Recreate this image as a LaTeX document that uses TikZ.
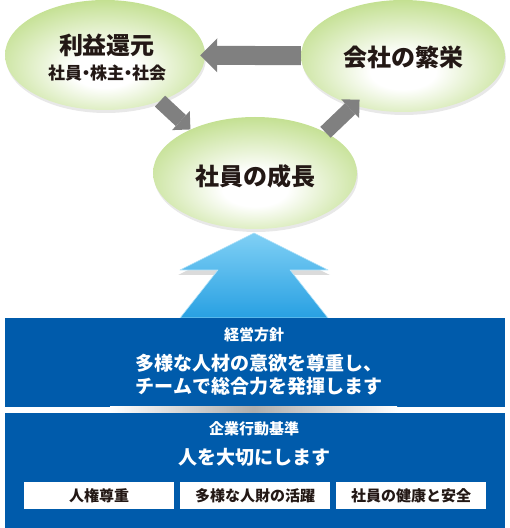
\documentclass[tikz,border=0pt]{standalone}
\usepackage{fontspec}
\setmainfont{Noto Sans CJK JP}
\usetikzlibrary{arrows.meta,shapes.geometric,shadows}
\definecolor{leafgreen}{RGB}{138,194,40}
\colorlet{leaflight}{leafgreen!48!white}
\colorlet{leafmid}{leafgreen!85!white}
\definecolor{corpblue}{RGB}{0,91,171}
\definecolor{skytop}{RGB}{128,208,245}
\definecolor{skybot}{RGB}{40,160,226}
\definecolor{inkdark}{RGB}{35,24,21}
\definecolor{flowgray}{RGB}{128,128,128}
\pgfdeclareradialshading{leafglow}{\pgfpoint{0bp}{-8bp}}{color(0bp)=(white); color(8bp)=(white); color(28bp)=(leaflight); color(43bp)=(leafmid); color(50bp)=(leafgreen); color(60bp)=(leafgreen)}
\newcommand\middot{\kern-4.5pt・\kern-4.5pt}

\begin{document}
\begin{tikzpicture}[x=1pt,y=1pt,line join=round,
  bubble/.style={ellipse,shading=leafglow,inner sep=0pt,
    drop shadow={opacity=0.18,shadow xshift=1pt,shadow yshift=-3pt}},
  bubbletext/.style={text=inkdark,inner sep=0pt,font=\fontsize{24}{28}\selectfont\bfseries},
  subtext/.style={text=inkdark,inner sep=0pt,font=\fontsize{17}{20}\selectfont\bfseries},
  flow/.style={draw=flowgray,line width=19pt,-{Triangle[length=17pt,width=34pt,line width=0pt]}},
  flowdiag/.style={draw=flowgray,line width=15pt,-{Triangle[length=13pt,width=26pt,line width=0pt]}},
  panel/.style={rectangle,fill=corpblue,inner sep=0pt,minimum width=500pt},
  panelhead/.style={text=white,inner sep=0pt,font=\fontsize{15}{18}\selectfont\bfseries},
  paneltext/.style={text=white,inner sep=0pt,font=\fontsize{19}{22}\selectfont\bfseries},
  valuebox/.style={rectangle,fill=white,minimum width=150pt,minimum height=27pt,inner sep=0pt,
    text=inkdark,font=\fontsize{15}{18}\selectfont\bfseries}]
\useasboundingbox (0,0) rectangle (510,528);
% cycle of ellipses
\node[bubble,minimum width=200pt,minimum height=110pt] (L) at (105,473) {};
\node[bubble,minimum width=204pt,minimum height=112pt] (R) at (403,472) {};
\node[bubble,minimum width=204pt,minimum height=112pt] (B) at (255,355) {};
\node[bubbletext] (returnTitle) at ([xshift=2pt,yshift=10pt]L) {利益還元};
\node[subtext] (returnSub) at ([xshift=2pt,yshift=-18pt]L) {社員\middot 株主\middot 社会};
\node[bubbletext] (growthTitle) at ([yshift=-1pt]R) {会社の繁栄};
\node[bubbletext] (staffTitle) at ([yshift=-3pt]B) {社員の成長};
\draw[flow,shorten >=-5pt] (R) -- (L);
\draw[flowdiag] (L.-40) -- (B.146);
\draw[flowdiag,shorten >=-8pt] (B.30) -- (R.225);
% blue arrow
\fill[black,opacity=0.14] (254,290) -- (330,253) -- (292,253) -- (328,210) -- (180,210) -- (216,253) -- (178,253) -- cycle;
\shade[top color=skytop,bottom color=skybot,draw=skytop!60!white,line width=0.6pt]
  (254,295) -- (328,258) -- (290,258) -- (328,210) -- (180,210) -- (218,258) -- (180,258) -- cycle;
% policy panels
\node[panel,minimum height=89pt] (policy) at (255,165.5) {};
\node[panelhead] (policyHead) at (254,193) {経営方針};
\node[paneltext] (policyLine1) at (259,165) {多様な人材の意欲を尊重し、};
\node[paneltext] (policyLine2) at (259,142) {チームで総合力を発揮します};
\shade[left color=white,right color=white,middle color=black!32] (110,115) rectangle (397,121);
\node[panel,minimum height=115pt] (conduct) at (255,57.5) {};
\node[panelhead] (conductHead) at (254,99) {企業行動基準};
\node[paneltext] (conductText) at (254,71) {人を大切にします};
\foreach \name/\x/\label in {rights/99/人権尊重,talent/255/多様な人財の活躍,health/411/社員の健康と安全}
  \node[valuebox] (\name) at (\x,32.5) {\label};
\end{tikzpicture}
\end{document}
